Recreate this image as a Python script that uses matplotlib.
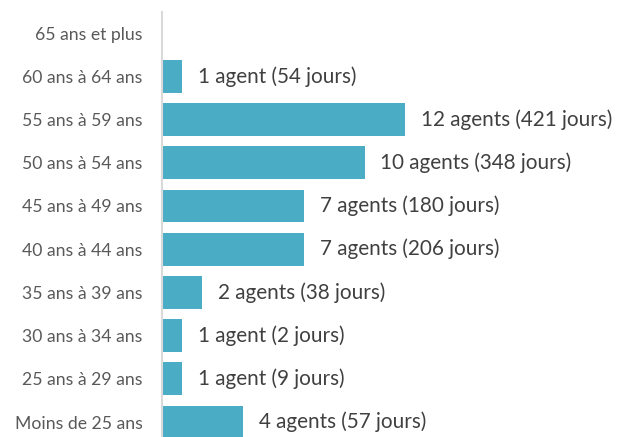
import matplotlib.pyplot as plt

plt.rcParams['font.family'] = ['Lato', 'DejaVu Sans']

categories = ["Moins de 25 ans", "25 ans à 29 ans", "30 ans à 34 ans", "35 ans à 39 ans",
              "40 ans à 44 ans", "45 ans à 49 ans", "50 ans à 54 ans", "55 ans à 59 ans",
              "60 ans à 64 ans", "65 ans et plus"]
agents = [4, 1, 1, 2, 7, 7, 10, 12, 1, 0]
jours = [57, 9, 2, 38, 206, 180, 348, 421, 54, 0]

labels = []
for a, j in zip(agents, jours):
    if a == 0:
        labels.append("")
    elif a == 1:
        labels.append(f"{a} agent ({j} jours)")
    else:
        labels.append(f"{a} agents ({j} jours)")

fig = plt.figure(figsize=(6.17, 4.37), dpi=100)
ax = fig.add_axes([162/617, 0, 1 - 162/617, 425/437])

bars = ax.barh(range(len(categories)), agents, height=0.76, color='#4BACC6')
ax.bar_label(bars, labels=labels, padding=11.5, fontsize=14.9, color='#404040')

ax.set_xlim(0, 455/20.25)
ax.set_ylim(-0.347, 9.49)
ax.set_yticks(range(len(categories)))
ax.set_yticklabels(categories, fontsize=12.7, color='#595959')
ax.tick_params(axis='y', length=0, pad=14)
ax.set_xticks([])
for s in ['top', 'right', 'bottom']:
    ax.spines[s].set_visible(False)
ax.spines['left'].set_color('#D9D9D9')
ax.spines['left'].set_linewidth(1.5)

fig.savefig('out.png', dpi=100)
